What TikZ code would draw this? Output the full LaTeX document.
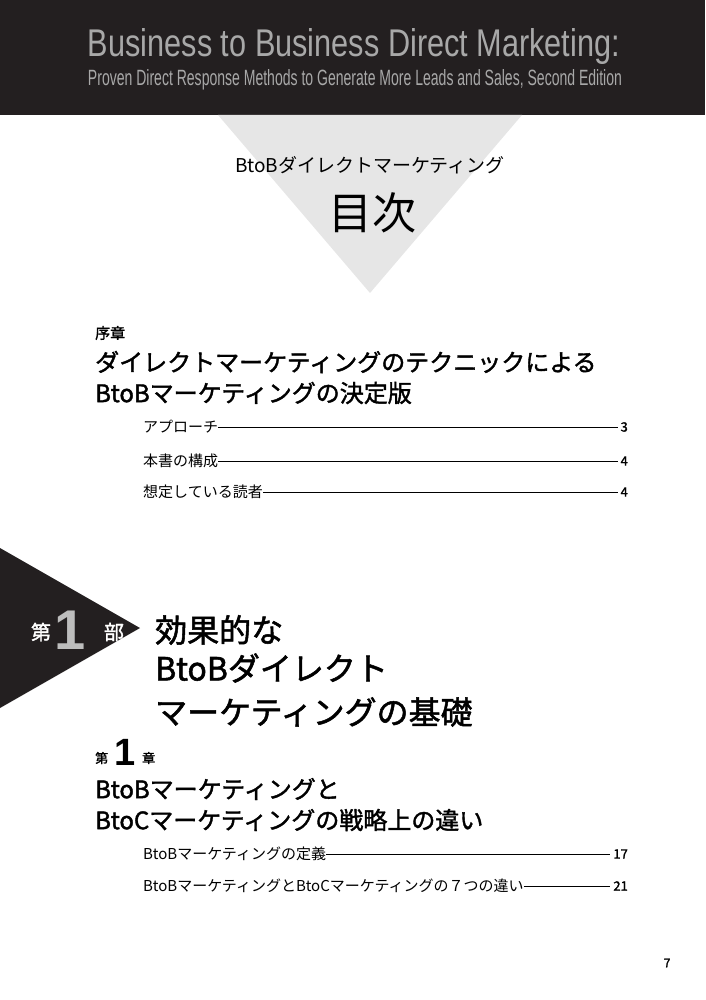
\documentclass[tikz,border=0pt]{standalone}
\usepackage{fontspec}
\setmainfont{Noto Sans CJK JP}
\newfontfamily\jp{Noto Sans CJK JP}
\newfontfamily\jpb{Noto Sans CJK JP}[FakeBold=1.6]
\newfontfamily\hdr{Liberation Sans}
\definecolor{band}{HTML}{231F20}
\definecolor{tri}{HTML}{E6E6E6}
\definecolor{hdrtxt}{HTML}{A8A8A8}
\definecolor{onegray}{HTML}{BDBDBD}
\begin{document}
\begin{tikzpicture}[x=1pt,y=-1pt,
  toc/.style={anchor=west,inner sep=0pt,font=\jp\fontsize{15}{15}\selectfont},
  pg/.style={anchor=east,inner sep=0pt,font=\jpb\fontsize{13}{13}\selectfont},
  leader/.style={line width=0.7pt},
  head/.style={anchor=west,inner sep=0pt,font=\jpb\fontsize{24}{24}\selectfont}]
\useasboundingbox (0,0) rectangle (705,1000);
\fill[band] (0,0) rectangle (705,115);
\node[inner sep=0pt,text=hdrtxt] (t1) at (354,47) {\resizebox{532pt}{28pt}{\hdr Business to Business Direct Marketing:}};
\node[inner sep=0pt,text=hdrtxt] (t2) at (355,80) {\resizebox{534pt}{16pt}{\hdr Proven Direct Response Methods to Generate More Leads and Sales, Second Edition}};
\fill[tri] (218,115) -- (522,115) -- (370,293) -- cycle;
\node[inner sep=0pt,font=\jp\fontsize{19}{19}\selectfont] (sub) at (370,165) {BtoBダイレクトマーケティング};
\node[inner sep=0pt,font=\jp\fontsize{44}{44}\selectfont] (mok) at (372,213) {目次};
% Intro
\node[anchor=west,inner sep=0pt,font=\jpb\fontsize{15}{15}\selectfont] (jo) at (95,333) {序章};
\node[head] (h1) at (95,362) {ダイレクトマーケティングのテクニックによる};
\node[head] (h2) at (95,393) {BtoBマーケティングの決定版};
\node[toc] (a1) at (143,427) {アプローチ};
\node[toc] (a2) at (143,461) {本書の構成};
\node[toc] (a3) at (143,492) {想定している読者};
\node[pg] (p1) at (628,427) {3};
\node[pg] (p2) at (628,461) {4};
\node[pg] (p3) at (628,492) {4};
\draw[leader] (a1.east) -- (p1.west-|618,0);
\draw[leader] (a2.east) -- (618,461);
\draw[leader] (a3.east) -- (618,492);
% Part 1
\fill[band] (0,548) -- (140,628) -- (0,708) -- cycle;
\node[inner sep=0pt,text=white,font=\jpb\fontsize{20}{20}\selectfont] (d1) at (41,632) {第};
\node[inner sep=0pt,text=onegray,font=\hdr\bfseries\fontsize{56}{56}\selectfont] (one) at (70,630) {1};
\node[inner sep=0pt,text=white,font=\jpb\fontsize{20}{20}\selectfont] (bu) at (114,632) {部};
\node[anchor=west,inner sep=0pt,font=\jpb\fontsize{32}{32}\selectfont] (s1) at (155,630) {効果的な};
\node[anchor=west,inner sep=0pt,font=\jpb\fontsize{32}{32}\selectfont] (s2) at (155,668) {BtoBダイレクト};
\node[anchor=west,inner sep=0pt,font=\jpb\fontsize{32}{32}\selectfont] (s3) at (155,712) {マーケティングの基礎};
% Chapter 1
\node[anchor=west,inner sep=0pt,font=\jpb\fontsize{13}{13}\selectfont] (c1) at (95,758) {第};
\node[inner sep=0pt,font=\hdr\bfseries\fontsize{38}{38}\selectfont] (c2) at (125,752) {1};
\node[anchor=west,inner sep=0pt,font=\jpb\fontsize{13}{13}\selectfont] (c3) at (142,758) {章};
\node[head] (h3) at (95,789) {BtoBマーケティングと};
\node[head] (h4) at (95,820) {BtoCマーケティングの戦略上の違い};
\node[toc] (b1) at (143,854) {BtoBマーケティングの定義};
\node[toc] (b2) at (143,886) {BtoBマーケティングとBtoCマーケティングの７つの違い};
\node[pg] (q1) at (628,854) {17};
\node[pg] (q2) at (628,886) {21};
\draw[leader] (b1.east) -- (610,854);
\draw[leader] (b2.east) -- (610,886);
\node[inner sep=0pt,font=\jpb\fontsize{12}{12}\selectfont] (pn) at (667,963) {7};
\end{tikzpicture}
\end{document}
